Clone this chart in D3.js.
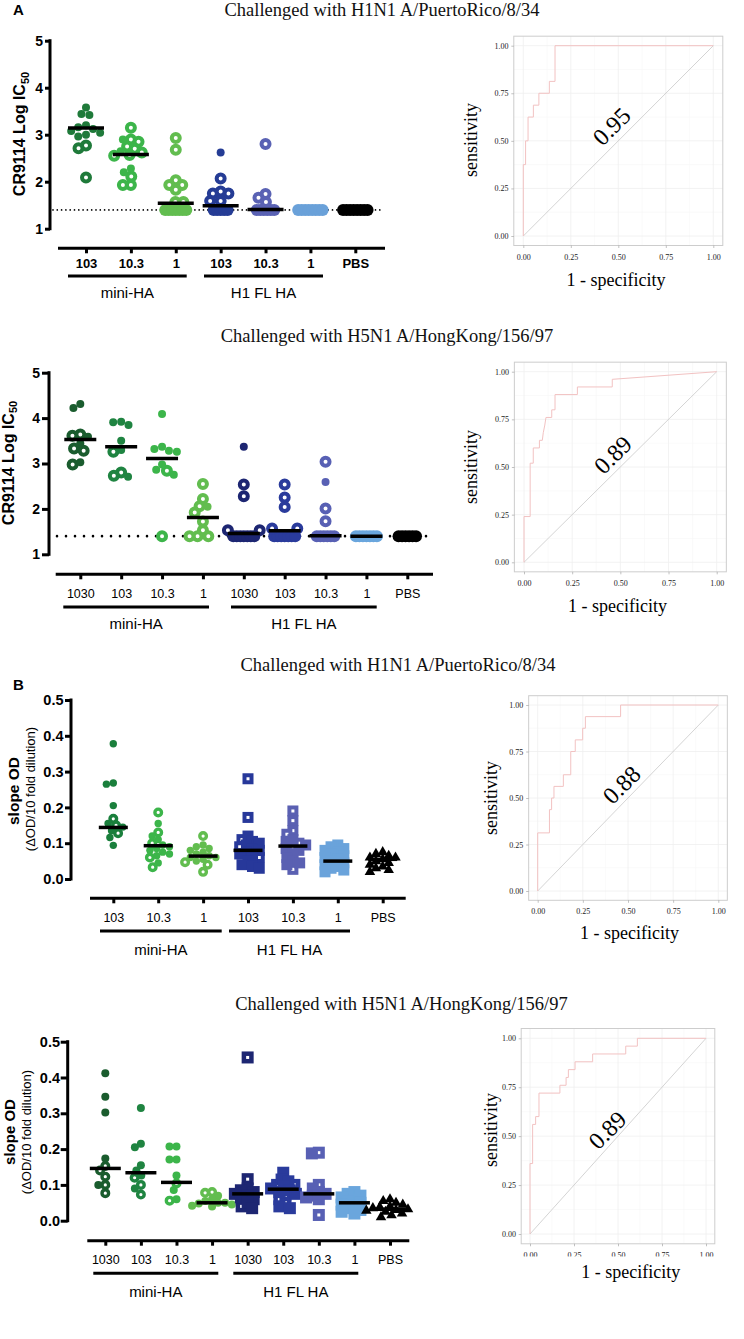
<!DOCTYPE html>
<html><head><meta charset="utf-8">
<script src="https://cdn.jsdelivr.net/npm/d3@7"></script>
<style>body{margin:0;background:#fff}svg{display:block}</style>
</head><body>
<svg id="c" width="744" height="1339"></svg>
<script>
// ================= DATA =================
const titleH1N1 = "Challenged with H1N1 A/PuertoRico/8/34";
const titleH5N1 = "Challenged with H5N1 A/HongKong/156/97";

const catsA1 = ["103","10.3","1","103","10.3","1","PBS"];
const catsA2 = ["1030","103","10.3","1","1030","103","10.3","1","PBS"];
const groupNames = ["mini-HA","H1 FL HA"];
const lodValue = 1.4;

// Panel A, H1N1 : CR9114 log IC50
const a1Open   = [[2.77,2.71,2.09],[3.15,2.90,2.85,2.75,2.70,2.62,2.57,2.55,2.11,1.93,1.93],[2.93,2.68,2.03,1.93,1.93,1.83,1.57,1.57],[2.07,1.75,1.75,1.79,1.59,1.59],[2.80,1.74,1.66,1.57],[],[]];
const a1Filled = [[3.58,3.44,3.42,3.20,3.16,3.12,3.08,3.04,3.00,2.96],[2.90,2.65,2.28,2.20],[],[2.62],[],[],[]];
const a1Lod    = [0,0,7,5,6,8,8];
const a1Median = [3.14,2.58,1.54,1.49,1.41,null,null];

// Panel A, H5N1
const a2Open   = [[3.64,3.61,3.33,3.28,2.98],[3.26,2.80,2.73],[2.84,1.40],[2.55,2.22,2.06,1.92,1.72,1.53,1.40,1.40,1.40],[2.54,2.28,1.53,1.53],[2.54,2.25,2.04,1.57,1.57],[3.04,2.01,1.73],[],[]];
const a2Filled = [[4.31,4.22,3.59,3.44,3.03],[3.92,3.91,3.85,3.50,3.30,2.71],[4.09,3.37,3.32,3.28,3.26,2.98,2.86,2.75],[2.05],[3.37],[],[2.59],[],[]];
const a2Lod    = [0,0,0,0,7,7,6,7,6];
const a2Median = [3.53,3.37,3.11,1.81,1.46,1.52,1.41,1.40,null];

// Panel B, H1N1 : slope OD
const b1Open   = [[0.168,0.150,0.128],[0.186,0.130,0.100,0.060,0.033],[0.120,0.047,0.040,0.020],[0.280,0.172,0.110,0.090,0.060],[0.190,0.163,0.135,0.125,0.100,0.090,0.027],[],[]];
const b1Filled = [[0.378,0.268,0.265,0.205,0.155,0.145,0.135,0.116,0.094],[0.155,0.120,0.110,0.095,0.090,0.085,0.080,0.075,0.070,0.065,0.045],[0.095,0.090,0.085,0.080,0.075,0.070,0.065,0.060,0.060,0.055,0.050],[0.120,0.105,0.100,0.095,0.085,0.080,0.075,0.070,0.065,0.050,0.040,0.035,0.030],[0.110,0.105,0.095,0.085,0.080,0.070,0.060,0.050,0.045,0.040],[0.095,0.090,0.085,0.080,0.075,0.070,0.065,0.060,0.055,0.050,0.045,0.040,0.035,0.030,0.025,0.020],[0.075,0.070,0.065,0.060,0.060,0.055,0.050,0.045,0.040,0.035,0.030,0.025,0.020]];
const b1Median = [0.144,0.093,0.064,0.080,0.092,0.050,0.055];

// Panel B, H5N1
const b2Open   = [[0.153,0.140,0.123,0.100,0.077],[0.120,0.100,0.073],[0.104,0.056],[0.080,0.078],[0.456,0.116,0.040],[0.100,0.100,0.070,0.060,0.050],[0.190,0.100,0.016],[],[]];
const b2Filled = [[0.412,0.346,0.302,0.174,0.100],[0.315,0.215,0.205,0.155,0.140,0.126,0.090],[0.207,0.207,0.171,0.171,0.126,0.086,0.060],[0.070,0.060,0.055,0.050,0.050,0.048,0.045,0.042,0.040],[0.090,0.085,0.080,0.075,0.070,0.065,0.060,0.050,0.035],[0.134,0.115,0.110,0.095,0.090,0.085,0.080,0.075,0.040,0.035],[0.188,0.090,0.080,0.075,0.070,0.065,0.060],[0.080,0.075,0.070,0.065,0.060,0.055,0.050,0.045,0.040,0.035,0.030,0.025,0.020],[0.060,0.055,0.050,0.045,0.040,0.038,0.035,0.032,0.030,0.028,0.025,0.020,0.015,0.010]];
const b2Median = [0.146,0.134,0.107,0.050,0.075,0.088,0.075,0.050,0.032];

// ROC curves [1-specificity, sensitivity]
const roc1 = [[0,0],[0,0.375],[0.012,0.375],[0.012,0.5],[0.025,0.5],[0.025,0.625],[0.053,0.625],[0.053,0.6875],[0.082,0.6875],[0.082,0.75],[0.137,0.75],[0.137,0.8125],[0.167,0.8125],[0.167,1],[1,1]];
const roc2 = [[0,0],[0,0.24],[0.032,0.24],[0.032,0.52],[0.048,0.52],[0.048,0.6],[0.08,0.6],[0.08,0.64],[0.095,0.64],[0.1,0.68],[0.108,0.72],[0.114,0.76],[0.144,0.76],[0.144,0.8],[0.161,0.8],[0.161,0.88],[0.277,0.88],[0.277,0.92],[0.458,0.92],[0.458,0.96],[1,1]];
const roc3 = [[0,0],[0,0.3125],[0.065,0.3125],[0.065,0.4375],[0.077,0.4375],[0.077,0.5],[0.09,0.5],[0.09,0.5625],[0.142,0.5625],[0.142,0.625],[0.183,0.625],[0.183,0.75],[0.208,0.75],[0.208,0.8125],[0.249,0.8125],[0.249,0.875],[0.264,0.875],[0.264,0.9375],[0.459,0.9375],[0.459,1],[1,1]];
const roc4 = [[0,0],[0,0.36],[0.015,0.36],[0.015,0.56],[0.032,0.56],[0.032,0.6],[0.051,0.6],[0.051,0.72],[0.17,0.72],[0.17,0.76],[0.205,0.76],[0.205,0.8],[0.218,0.8],[0.218,0.84],[0.256,0.84],[0.256,0.88],[0.356,0.88],[0.356,0.92],[0.544,0.92],[0.544,0.96],[0.61,0.96],[0.61,1],[1,1]];
const aucLabels = ["0.95","0.89","0.88","0.89"];
const rocTicks = [0,0.25,0.5,0.75,1];

// ================= STYLE / LAYOUT =================
const SANS = "'Liberation Sans', Arial, sans-serif";
const SERIF = "'Liberation Serif', 'Times New Roman', serif";
const colA1 = ["#1f7a3a","#3cb54a","#62bd4f","#253c95","#5a62b4","#6aa1d9","#000000"];
const colA2 = ["#1a5c2e","#1f8441","#3cb54a","#62bd4f","#1d2672","#2a3b9c","#5860b4","#6aa6dd","#000000"];
const colB1 = ["#1a7f3c","#3cb54a","#62bd4f","#27389a","#5a60b2","#6aa3db","#000000"];

const svg = d3.select("#c");

function swarm(points, d) {
  const placed = points.filter(p => p.fixed);
  const free = points.filter(p => !p.fixed).sort((a,b) => a.py - b.py);
  for (const p of free) {
    const cands = [0];
    for (const q of placed) {
      const dy = Math.abs(p.py - q.py);
      if (dy < d) { const dx = Math.sqrt(d*d - dy*dy); cands.push(q.dx + dx, q.dx - dx); }
    }
    cands.sort((a,b) => Math.abs(a) - Math.abs(b) || a - b);
    p.dx = 0;
    for (const c of cands) {
      if (placed.every(q => (q.dx-c)*(q.dx-c) + (q.py-p.py)*(q.py-p.py) >= d*d - 1e-6)) { p.dx = c; break; }
    }
    placed.push(p);
  }
}

function drawScatter(P) {
  const g = svg.append("g");
  const y = d3.scaleLinear().domain(P.yDomain).range(P.yRange);
  const x = d3.scalePoint().domain(d3.range(P.cats.length)).range(P.catRange);

  // y axis
  const ya = g.append("g").attr("transform", `translate(${P.axisX},0)`)
    .call(d3.axisLeft(y).tickValues(P.yTicks).tickFormat(P.yFmt).tickSize(P.tickLen).tickSizeOuter(0).tickPadding(P.tickPad));
  ya.select(".domain").attr("stroke", "#000").attr("stroke-width", 3).attr("d", `M0,${P.yRange[0]+1.5}V${P.yRange[1]-1.5}`);
  ya.selectAll(".tick line").attr("stroke", "#000").attr("stroke-width", 3);
  ya.selectAll(".tick text").attr("font-family", SANS).attr("font-weight", "bold").attr("font-size", P.yTickFont).attr("fill", "#000");

  // x axis
  const xa = g.append("g").attr("transform", `translate(0,${P.xAxisY})`)
    .call(d3.axisBottom(x).tickFormat(i => P.cats[i]).tickSize(5).tickSizeOuter(0));
  xa.select(".domain").attr("stroke", "#000").attr("stroke-width", 3).attr("d", `M${P.xAxisX[0]},0H${P.xAxisX[1]}`);
  xa.selectAll(".tick line").attr("stroke", "#000").attr("stroke-width", 3);
  xa.selectAll(".tick text").attr("font-family", SANS).attr("font-weight", P.xTickBold ? "bold" : "normal")
    .attr("font-size", P.xTickFont).attr("fill", "#000").attr("y", P.xTickLabelY - P.xAxisY).attr("dy", 0);

  // group underlines + labels
  P.groupLines.forEach((gl, k) => {
    g.append("line").attr("x1", gl[0]).attr("x2", gl[1]).attr("y1", P.groupLineY).attr("y2", P.groupLineY)
      .attr("stroke", "#000").attr("stroke-width", 3);
    g.append("text").attr("x", (gl[0]+gl[1])/2).attr("y", P.groupLabelY).attr("text-anchor", "middle")
      .attr("font-family", SANS).attr("font-size", 15).text(groupNames[k]);
  });

  // detection limit line (round dots)
  if (P.lodLine) {
    g.append("line").attr("x1", P.lodLine[0]).attr("x2", P.lodLine[1]).attr("y1", y(lodValue)).attr("y2", y(lodValue))
      .attr("stroke", "#000").attr("stroke-width", P.dotW).attr("stroke-dasharray", P.dash).attr("stroke-linecap", "round");
  }

  // points
  P.cats.forEach((c, i) => {
    const pts = [];
    const n = P.lod ? P.lod[i] : 0;
    for (let k = 0; k < n; k++) pts.push({v: lodValue, py: y(lodValue), fixed: true, dx: (k - (n-1)/2) * P.lodSpacing, kind: "lod"});
    P.open[i].forEach(v => pts.push({v, py: y(v), kind: "open"}));
    P.filled[i].forEach(v => pts.push({v, py: y(v), kind: "filled"}));
    swarm(pts, P.d);
    const cx = x(i), col = P.colors[i], shape = P.shape(i);
    const gg = g.append("g");
    ["lod", "open", "filled"].forEach(kind => {
      pts.filter(p => p.kind === kind).forEach(p => {
        const px = cx + p.dx, py = p.py;
        if (kind === "lod") {
          gg.append("circle").attr("cx", px).attr("cy", py).attr("r", P.ringR + P.ringW/2).attr("fill", col);
        } else if (shape === "circle") {
          if (kind === "open") gg.append("circle").attr("cx", px).attr("cy", py).attr("r", P.ringR).attr("fill", "#fff").attr("stroke", col).attr("stroke-width", P.ringW);
          else gg.append("circle").attr("cx", px).attr("cy", py).attr("r", P.dotR).attr("fill", col);
        } else if (shape === "square") {
          const s = P.sq;
          gg.append("rect").attr("x", px - s/2).attr("y", py - s/2).attr("width", s).attr("height", s).attr("fill", col);
          if (kind === "open") gg.append("rect").attr("x", px - 1.5).attr("y", py - 1.5).attr("width", 3).attr("height", 3).attr("fill", "#fff");
        } else {
          gg.append("path").attr("transform", `translate(${px},${py})`).attr("d", d3.symbol(d3.symbolTriangle, 48)()).attr("fill", col);
        }
      });
    });
  });

  // medians
  P.median.forEach((m, i) => {
    if (m == null) return;
    g.append("line").attr("x1", x(i) - P.medW/2).attr("x2", x(i) + P.medW/2).attr("y1", y(m)).attr("y2", y(m))
      .attr("stroke", "#000").attr("stroke-width", 3.5);
  });

  // y label
  const yl = P.ylab;
  const t = g.append("text").attr("transform", `translate(${yl.x},${yl.y}) rotate(-90)`).attr("text-anchor", "middle")
    .attr("font-family", SANS).attr("font-weight", "bold").attr("font-size", yl.size);
  if (yl.sub) {
    t.append("tspan").text(yl.text);
    t.append("tspan").attr("font-size", 11).attr("dy", 3.5).text(yl.sub);
  } else t.text(yl.text);
  if (yl.line2) {
    g.append("text").attr("transform", `translate(${yl.x2},${yl.y2}) rotate(-90)`).attr("text-anchor", "middle")
      .attr("font-family", SANS).attr("font-size", 13).text(yl.line2);
  }
}

function drawROC(R, data, auc, idx) {
  const g = svg.append("g");
  const x = d3.scaleLinear().domain([0,1]).range([R.x0, R.x1]);
  const y = d3.scaleLinear().domain([0,1]).range([R.y0, R.y1]);
  const ex = (R.x1 - R.x0) * 0.05, ey = (R.y0 - R.y1) * 0.05;
  const bx0 = R.x0 - ex, bx1 = R.x1 + ex, by0 = R.y1 - ey, by1 = R.y0 + ey;
  // grid
  [0.125,0.375,0.625,0.875].forEach(v => {
    g.append("line").attr("x1", x(v)).attr("x2", x(v)).attr("y1", by0).attr("y2", by1).attr("stroke", "#f7f7f7").attr("stroke-width", 0.6);
    g.append("line").attr("y1", y(v)).attr("y2", y(v)).attr("x1", bx0).attr("x2", bx1).attr("stroke", "#f7f7f7").attr("stroke-width", 0.6);
  });
  rocTicks.forEach(v => {
    g.append("line").attr("x1", x(v)).attr("x2", x(v)).attr("y1", by0).attr("y2", by1).attr("stroke", "#efefef").attr("stroke-width", 0.8);
    g.append("line").attr("y1", y(v)).attr("y2", y(v)).attr("x1", bx0).attr("x2", bx1).attr("stroke", "#efefef").attr("stroke-width", 0.8);
  });
  // diagonal
  g.append("line").attr("x1", x(0)).attr("y1", y(0)).attr("x2", x(1)).attr("y2", y(1)).attr("stroke", "#c9c9c9").attr("stroke-width", 0.8);
  // curve
  g.append("path").datum(data).attr("fill", "none").attr("stroke", "#f2c2c2").attr("stroke-width", 1)
    .attr("d", d3.line().x(d => x(d[0])).y(d => y(d[1])));
  // box
  g.append("rect").attr("x", bx0).attr("y", by0).attr("width", bx1 - bx0).attr("height", by1 - by0)
    .attr("fill", "none").attr("stroke", "#cdcdcd").attr("stroke-width", 1);
  // axes
  const fmt = d3.format(".2f");
  const xa = g.append("g").attr("transform", `translate(0,${by1})`)
    .call(d3.axisBottom(x).tickValues(rocTicks).tickFormat(fmt).tickSize(2.5).tickSizeOuter(0).tickPadding(6));
  xa.select(".domain").remove();
  xa.selectAll(".tick line").attr("stroke", "#999").attr("stroke-width", 0.6);
  xa.selectAll(".tick text").attr("font-family", SERIF).attr("font-size", 8).attr("fill", "#222");
  if (R.clipY) {
    const id = "rocclip" + idx;
    // clip rect in the axis group's local coordinates
    xa.append("clipPath").attr("id", id).append("rect")
      .attr("x", bx0 - 30).attr("y", -2).attr("width", bx1 - bx0 + 60).attr("height", R.clipY - by1 + 2);
    xa.attr("clip-path", `url(#${id})`);
  }
  const ya = g.append("g").attr("transform", `translate(${bx0},0)`)
    .call(d3.axisLeft(y).tickValues(rocTicks).tickFormat(fmt).tickSize(2.5).tickSizeOuter(0).tickPadding(2.8));
  ya.select(".domain").remove();
  ya.selectAll(".tick line").attr("stroke", "#999").attr("stroke-width", 0.6);
  ya.selectAll(".tick text").attr("font-family", SERIF).attr("font-size", 8).attr("fill", "#222");
  // labels
  g.append("text").attr("x", R.xlabX).attr("y", R.xlabY).attr("text-anchor", "middle")
    .attr("font-family", SERIF).attr("font-size", 18).text("1 - specificity");
  g.append("text").attr("transform", `translate(${R.sensX},${R.sensY}) rotate(-90)`).attr("text-anchor", "middle")
    .attr("font-family", SERIF).attr("font-size", 18).text("sensitivity");
  g.append("text").attr("transform", `translate(${x(R.aucAt[0])},${y(R.aucAt[1])}) rotate(-45)`)
    .attr("text-anchor", "middle").attr("dominant-baseline", "central")
    .attr("font-family", SERIF).attr("font-size", 24).text(auc);
}

// titles and panel letters
function title(txt, cx, base) {
  svg.append("text").attr("x", cx).attr("y", base).attr("text-anchor", "middle")
    .attr("font-family", SERIF).attr("font-size", 18.5).attr("fill", "#111").text(txt);
}
title(titleH1N1, 382, 16);
title(titleH5N1, 387, 342);
title(titleH1N1, 398, 670.5);
title(titleH5N1, 401.5, 1010);
svg.append("text").attr("x", 13).attr("y", 15).attr("font-family", SANS).attr("font-weight", "bold").attr("font-size", 15).text("A");
svg.append("text").attr("x", 13).attr("y", 690).attr("font-family", SANS).attr("font-weight", "bold").attr("font-size", 15).text("B");

const circleShape = () => "circle";
const bShape = (nMini, nH1) => i => i < nMini ? "circle" : (i < nMini + nH1 ? "square" : "triangle");

drawScatter({
  cats: catsA1, open: a1Open, filled: a1Filled, lod: a1Lod, median: a1Median, colors: colA1, shape: circleShape,
  yDomain: [1,5], yRange: [228.7, 40.7], yTicks: [1,2,3,4,5], yFmt: d3.format("d"), axisX: 50, tickLen: 5, tickPad: 2, yTickFont: 14,
  catRange: [86, 355.3], xAxisY: 248.3, xAxisX: [58, 385], xTickLabelY: 268, xTickBold: true, xTickFont: 13,
  groupLineY: 276, groupLines: [[68,186.7],[204,323]], groupLabelY: 298,
  lodLine: [53, 382], dash: "0,4.3", dotW: 1.7, lodSpacing: 3.5,
  d: 8, ringR: 4, ringW: 4, dotR: 4, medW: 36,
  ylab: {text: "CR9114 Log IC", sub: "50", size: 16, x: 25, y: 134}
});
drawScatter({
  cats: catsA2, open: a2Open, filled: a2Filled, lod: a2Lod, median: a2Median, colors: colA2, shape: circleShape,
  yDomain: [1,5], yRange: [554.3, 372.7], yTicks: [1,2,3,4,5], yFmt: d3.format("d"), axisX: 49, tickLen: 7, tickPad: 2, yTickFont: 14,
  catRange: [80.3, 407.3], xAxisY: 574.3, xAxisX: [55.7, 433], xTickLabelY: 598, xTickBold: false, xTickFont: 12.5,
  groupLineY: 607, groupLines: [[63.3,209],[231,376.7]], groupLabelY: 628.5,
  lodLine: [57, 435], dash: "0,9", dotW: 2.6, lodSpacing: 3.5,
  d: 8, ringR: 4, ringW: 4, dotR: 4, medW: 32,
  ylab: {text: "CR9114 Log IC", sub: "50", size: 16, x: 13.5, y: 463}
});
drawScatter({
  cats: catsA1, open: b1Open, filled: b1Filled, lod: null, median: b1Median, colors: colB1, shape: bShape(3,3),
  yDomain: [0,0.5], yRange: [879, 700], yTicks: [0,0.1,0.2,0.3,0.4,0.5], yFmt: d3.format(".1f"), axisX: 71, tickLen: 6, tickPad: 1.5, yTickFont: 14.5,
  catRange: [113.3, 382.7], xAxisY: 898.3, xAxisX: [90, 405.7], xTickLabelY: 922, xTickBold: false, xTickFont: 12.5,
  groupLineY: 931, groupLines: [[100,221.7],[229,350]], groupLabelY: 954.5,
  lodLine: null, d: 7, ringR: 3.3, ringW: 3.4, dotR: 3.7, sq: 11, medW: 29,
  ylab: {text: "slope OD", size: 15.5, x: 19, y: 791, line2: "(\u0394OD/10 fold dilution)", x2: 35, y2: 789}
});
drawScatter({
  cats: catsA2, open: b2Open, filled: b2Filled, lod: null, median: b2Median, colors: colA2, shape: bShape(4,4),
  yDomain: [0,0.5], yRange: [1220.7, 1041.7], yTicks: [0,0.1,0.2,0.3,0.4,0.5], yFmt: d3.format(".1f"), axisX: 67.7, tickLen: 7, tickPad: 0.7, yTickFont: 14.5,
  catRange: [105.3, 390], xAxisY: 1240.7, xAxisX: [87.3, 409.3], xTickLabelY: 1264, xTickBold: false, xTickFont: 12.5,
  groupLineY: 1273.3, groupLines: [[93.3,218.3],[233.3,358.3]], groupLabelY: 1297,
  lodLine: null, d: 7, ringR: 3.3, ringW: 3.4, dotR: 4, sq: 12, medW: 31,
  ylab: {text: "slope OD", size: 15, x: 14.5, y: 1132, line2: "(\u0394OD/10 fold dilution)", x2: 31, y2: 1132}
});

drawROC({x0: 523.3, x1: 713.3, y0: 236, y1: 45.7, xlabX: 616, xlabY: 286, sensX: 477, sensY: 140, aucAt: [0.465, 0.575]}, roc1, aucLabels[0], 1);
drawROC({x0: 524, x1: 716.7, y0: 562.3, y1: 371.7, xlabX: 617.5, xlabY: 611.7, sensX: 477, sensY: 467, aucAt: [0.462, 0.563]}, roc2, aucLabels[1], 2);
drawROC({x0: 537.7, x1: 718.3, y0: 891, y1: 705, xlabX: 629.5, xlabY: 939.3, sensX: 497, sensY: 798, aucAt: [0.465, 0.57]}, roc3, aucLabels[2], 3);
drawROC({x0: 530, x1: 706, y0: 1234, y1: 1038.3, xlabX: 630.8, xlabY: 1278.3, sensX: 497, sensY: 1130, aucAt: [0.44, 0.53], clipY: 1256.5}, roc4, aucLabels[3], 4);
</script>
</body></html>
